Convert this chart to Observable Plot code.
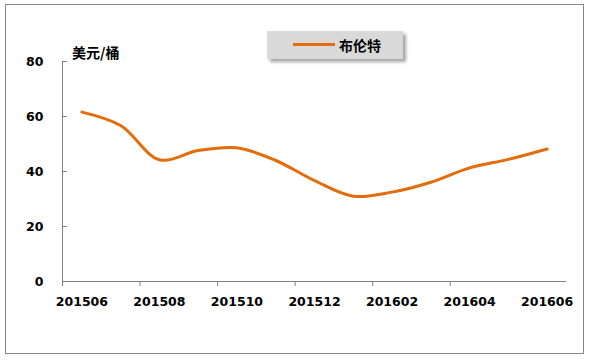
<!DOCTYPE html>
<html>
<head>
<meta charset="utf-8">
<script src="https://cdn.jsdelivr.net/npm/d3@7"></script>
<script src="https://cdn.jsdelivr.net/npm/@observablehq/plot@0.6"></script>
<style>
  html, body { margin: 0; padding: 0; background: #fff; }
  #wrap { position: relative; width: 590px; height: 363px; overflow: hidden; }
  #border { position: absolute; left: 5px; top: 4px; width: 577px; height: 348px; border: 1.5px solid #868686; box-sizing: content-box; }
  #unit { position: absolute; left: 72px; top: 42px; font: bold 14px "Noto Sans CJK SC", sans-serif; color: #000; line-height: 20px; }
  #legend { position: absolute; left: 267px; top: 31px; width: 136px; height: 28px; background: #d9d9d9; box-shadow: 3px 3px 3px rgba(0,0,0,0.35); }
  #legend .sw { position: absolute; left: 26px; top: 12px; width: 42px; height: 3px; background: #e46c0a; }
  #legend .lb { position: absolute; left: 72px; top: 3px; font: bold 14px "Noto Sans CJK SC", sans-serif; color: #000; line-height: 22px; }
  #chart { position: absolute; left: 0; top: 0; }
</style>
</head>
<body>
<div id="wrap">
  <div id="chart"></div>
  <div id="border"></div>
  <div id="unit">美元/桶</div>
  <div id="legend"><div class="sw"></div><div class="lb">布伦特</div></div>
</div>
<script>
const months = ["201506","201507","201508","201509","201510","201511","201512","201601","201602","201603","201604","201605","201606"];
const brent = [61.6, 56.7, 44.3, 47.6, 48.6, 44.0, 36.7, 31.0, 32.5, 36.1, 41.3, 44.4, 48.2];
const yTicks = [0, 20, 40, 60, 80];
const labelIdx = [0, 2, 4, 6, 8, 10, 12];

const data = months.map((m, i) => ({i, m, v: brent[i]}));
const tickMarks = labelIdx.slice(0, -1).map(i => i - 0.5);

const plot = Plot.plot({
  width: 590,
  height: 363,
  marginLeft: 62,
  marginRight: 24,
  marginTop: 61,
  marginBottom: 82,
  style: {fontFamily: "DejaVu Sans", fontWeight: "bold", fontSize: "12.5px", color: "#000", background: "transparent"},
  x: {type: "linear", domain: [-0.5, 12.5]},
  y: {domain: [0, 80]},
  marks: [
    Plot.axisY({ticks: yTicks, tickSize: 5, dx: 5, text: null, stroke: "#808080", label: null}),
    Plot.axisY({ticks: yTicks, tickSize: 0, tickPadding: 19, label: null, fill: "#000", fontSize: 12.5, fontWeight: "bold"}),
    Plot.axisX({ticks: tickMarks, tickSize: 5, text: null, stroke: "#808080", label: null}),
    Plot.axisX({ticks: labelIdx, tickSize: 0, tickPadding: 16, tickFormat: d => months[d], label: null, fill: "#000", fontSize: 12.5, fontWeight: "bold"}),
    Plot.ruleX([-0.5], {y1: 0, y2: 80, stroke: "#808080", strokeWidth: 1}),
    Plot.ruleY([0], {x1: -0.5, x2: 12.5, stroke: "#808080", strokeWidth: 1}),
    Plot.line(data, {x: "i", y: "v", stroke: "#e46c0a", strokeWidth: 3, curve: "catmull-rom"})
  ]
});
document.getElementById("chart").appendChild(plot);
</script>
</body>
</html>
